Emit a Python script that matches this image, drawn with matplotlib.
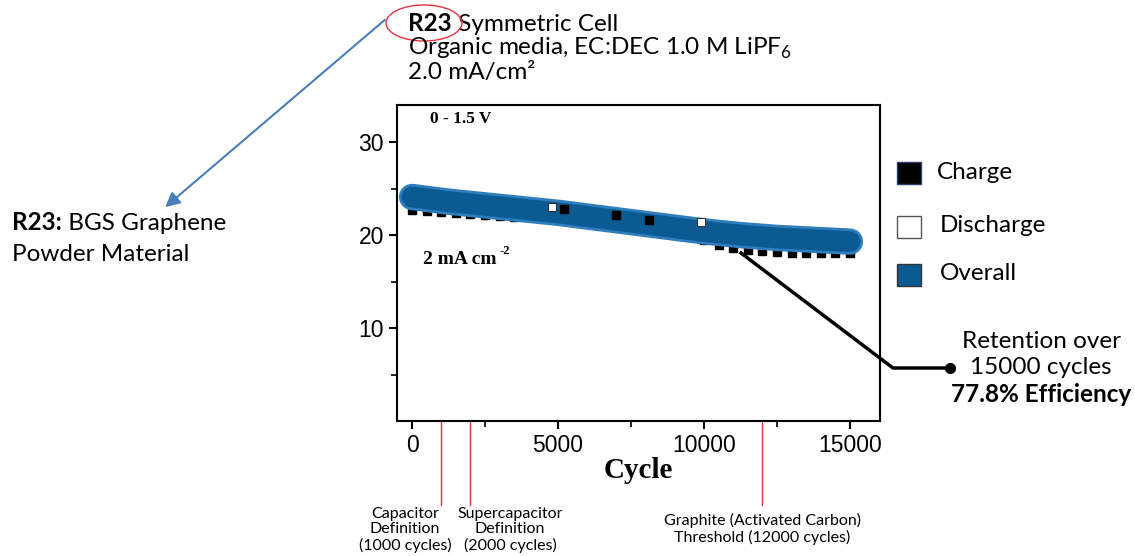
import matplotlib.pyplot as plt
from matplotlib.lines import Line2D
from matplotlib.patches import Ellipse, FancyArrowPatch, Rectangle

W, H = 1135, 556

# data
cycles = [0, 500, 1000, 1500, 2000, 2500, 3000, 3500, 4000, 4500, 5000,
          5500, 6000, 6500, 7000, 7500, 8000, 8500, 9000, 9500, 10000,
          10500, 11000, 11500, 12000, 12500, 13000, 13500, 14000, 14500, 15000]
charge = [22.7, 22.6, 22.5, 22.4, 22.3, 22.2, 22.1, 22.0, 21.9, 21.8, 21.6,
          21.5, 21.3, 21.2, 21.0, 20.8, 20.6, 20.4, 20.2, 19.9, 19.5,
          18.9, 18.6, 18.4, 18.3, 18.2, 18.1, 18.1, 18.1, 18.1, 18.1]
discharge = [23.3, 23.1, 22.9, 22.8, 22.7, 22.6, 22.5, 22.4, 22.3, 22.2, 22.0,
             21.9, 21.8, 21.6, 21.5, 21.3, 21.2, 21.0, 20.8, 20.6, 20.3,
             20.1, 19.9, 19.7, 19.6, 19.5, 19.4, 19.3, 19.3, 19.2, 19.2]
# stray points that show on top of the band
charge_top_x = [5200, 7000, 8100]
charge_top_y = [22.8, 22.2, 21.6]
discharge_top_x = [4800, 9900]
discharge_top_y = [23.0, 21.4]
overall_x = [0, 1250, 2500, 3750, 5000, 6250, 7500, 8750, 10000, 11250, 12500, 13750, 15000]
overall_y = [24.1, 23.6, 23.2, 22.8, 22.4, 21.9, 21.4, 20.9, 20.4, 20.0, 19.7, 19.5, 19.3]

milestones = [1000, 2000, 12000]
milestone_labels = ['Capacitor\nDefinition\n(1000 cycles)',
                    'Supercapacitor\nDefinition\n(2000 cycles)',
                    'Graphite (Activated Carbon)\nThreshold (12000 cycles)']

SANS = 'Lato'
SERIF = 'Liberation Serif'
FS = 17.5

plt.rcParams['mathtext.fontset'] = 'custom'
plt.rcParams['mathtext.rm'] = 'Lato'
plt.rcParams['mathtext.bf'] = 'Lato:bold'


def fx(px):
    return px / W


def fy(py):
    return 1 - py / H


fig = plt.figure(figsize=(W / 100, H / 100), dpi=100)
ax = fig.add_axes([fx(397), fy(421), (880 - 397) / W, (421 - 105) / H])

ax.plot(cycles, charge, 's', color='black', ms=6, zorder=2)
ax.plot(cycles, discharge, 's', mfc='white', mec='#333333', ms=6, mew=0.8, zorder=2)
ax.plot(overall_x, overall_y, '-', color='#2e7dbd', lw=19, solid_capstyle='round', zorder=3)
ax.plot(overall_x, overall_y, '-', color='#0b5a92', lw=15, solid_capstyle='round', zorder=4)
ax.plot(charge_top_x, charge_top_y, 's', color='black', ms=5.5, zorder=5)
ax.plot(discharge_top_x, discharge_top_y, 's', mfc='white', mec='#333333', ms=6, mew=0.8,
        zorder=5)

ax.set_xlim(-517, 16030)
ax.set_ylim(0, 34)
ax.set_xticks([0, 5000, 10000, 15000])
ax.set_xticks([2500, 7500, 12500], minor=True)
ax.set_yticks([10, 20, 30])
ax.set_yticks([5, 15, 25], minor=True)
ax.tick_params(axis='both', which='major', length=6, width=1.5, labelsize=16.5)
ax.tick_params(axis='both', which='minor', length=4, width=1.2)
for lab in ax.get_xticklabels() + ax.get_yticklabels():
    lab.set_fontfamily('Liberation Sans')
for s in ax.spines.values():
    s.set_linewidth(1.5)
ax.set_xlabel('Cycle', fontfamily=SERIF, fontweight='bold', fontsize=21, labelpad=0)

fig.text(fx(430), fy(119), '0 - 1.5 V', fontfamily=SERIF, fontweight='bold', fontsize=12.5,
         va='center')
fig.text(fx(423), fy(260), '2 mA cm', fontfamily=SERIF, fontweight='bold', fontsize=14,
         va='center')
fig.text(fx(499), fy(251), '-2', fontfamily=SERIF, fontweight='bold', fontsize=9, va='center')

# milestone markers below the axis
for m in milestones:
    ax.plot([m, m], [0, -9], color='#e8323c', lw=1, clip_on=False)
label_pos = [(405, 530), (510, 530), (762, 529)]
for lab, (px, py) in zip(milestone_labels, label_pos):
    fig.text(fx(px), fy(py), lab, ha='center', va='center', fontfamily=SANS,
             fontsize=11.5, linespacing=1.1)

# header text
r23 = fig.text(fx(408), fy(24), 'R23', fontfamily=SANS, fontweight='bold', fontsize=FS,
               va='baseline')
r23.set_y(fy(31))
ax.annotate(' Symmetric Cell', xy=(1, 0), xycoords=r23, va='bottom', fontfamily=SANS,
            fontsize=FS, annotation_clip=False)
fig.text(fx(408), fy(55), 'Organic media, EC:DEC 1.0 M LiPF$_6$', fontfamily=SANS,
         fontsize=FS, va='baseline')
fig.text(fx(408), fy(79), '2.0 mA/cm²', fontfamily=SANS, fontsize=FS, va='baseline')
fig.add_artist(Ellipse((fx(424), fy(23)), 76 / W, 36 / H, transform=fig.transFigure,
                       fill=False, ec='#e8323c', lw=1))

# arrow pointing to material label
fig.add_artist(FancyArrowPatch((fx(387), fy(18)), (fx(163), fy(209)),
                               transform=fig.transFigure, arrowstyle='-|>',
                               mutation_scale=22, color='#4a7ebb', lw=1.5))
r23b = fig.text(fx(12), fy(230), 'R23:', fontfamily=SANS, fontweight='bold', fontsize=FS,
                va='baseline')
ax.annotate(' BGS Graphene', xy=(1, 0), xycoords=r23b, va='bottom', fontfamily=SANS,
            fontsize=FS, annotation_clip=False)
fig.text(fx(12), fy(261), 'Powder Material', fontfamily=SANS, fontsize=FS, va='baseline')

# legend
leg = [('Charge', 'black', '#2a3f6a', 172, 937), ('Discharge', 'white', '#555555', 226, 940),
       ('Overall', '#0b5b93', '#333333', 274, 940)]
for name, fc, ec, py, tx in leg:
    fig.add_artist(Rectangle((fx(897), fy(py + 12)), 24 / W, 22 / H,
                             transform=fig.transFigure, fc=fc, ec=ec, lw=1))
    fig.text(fx(tx), fy(py), name, fontfamily=SANS, fontsize=FS, va='center')

# retention callout
fig.add_artist(Line2D([fx(741), fx(893), fx(950)], [fy(253), fy(368), fy(368)],
                      transform=fig.transFigure, color='black', lw=2.5))
fig.add_artist(Line2D([fx(950)], [fy(368)], transform=fig.transFigure, marker='o',
                      color='black', ms=7))
fig.text(fx(1041), fy(342), 'Retention over', fontfamily=SANS, fontsize=FS,
         ha='center', va='center')
fig.text(fx(1041), fy(368), '15000 cycles', fontfamily=SANS, fontsize=FS,
         ha='center', va='center')
fig.text(fx(1041), fy(395), '77.8% Efficiency', fontfamily=SANS, fontweight='bold',
         fontsize=FS, ha='center', va='center')

fig.savefig('out.png', dpi=100)
